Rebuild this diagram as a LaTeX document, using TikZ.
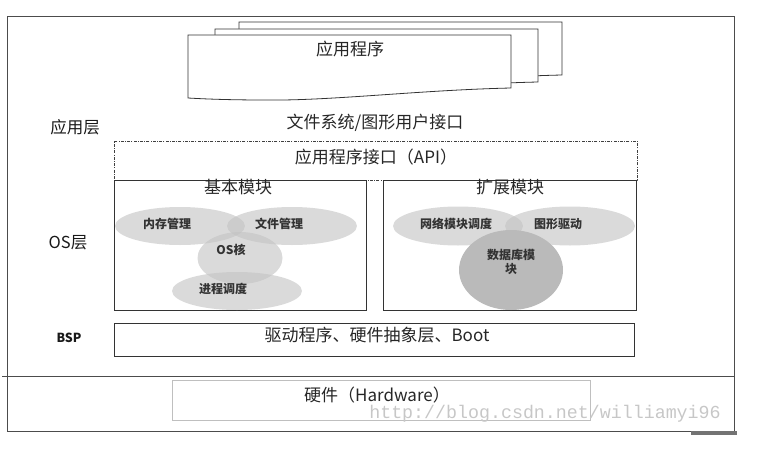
\documentclass[tikz,border=0pt]{standalone}
\usepackage{fontspec}
\setmainfont{Noto Sans CJK SC}
\newfontfamily\wmfont{Liberation Mono}
\usetikzlibrary{positioning,shapes.geometric}

\begin{document}
\begin{tikzpicture}[x=1pt,y=-1pt,
        layerbox/.style={draw=black!80, line width=0.8pt, inner sep=0pt},
        apibox/.style={draw=black!75, line width=0.7pt, inner sep=0pt,
            dash pattern=on 3pt off 1.2pt on 1pt off 1.2pt},
        blob/.style={ellipse, fill=black!24, fill opacity=0.6, inner sep=0pt},
        bigtxt/.style={font=\fontsize{17}{19}\selectfont, text=black!85},
        smalltxt/.style={font=\fontsize{12}{14}\selectfont\bfseries, text=black!80},
        sidetxt/.style={font=\fontsize{16.5}{18}\selectfont, text=black!90}
    ]

    \useasboundingbox (0,0) rectangle (757,452);

    % outer frame
    \draw[black!70, line width=0.9pt] (7,16) rectangle (734,431);
    \draw[black!70, line width=0.9pt] (2,376) -- (734,376);
    \fill[black!55] (691,431) rectangle (737,435);

    % stacked application documents
    \foreach \dx/\dy in {51/-13, 27/-6, 0/0} {
        \draw[black!80, line width=0.8pt, fill=white, shift={(\dx,\dy)}]
            (188,35) -- (511,35) -- (511,88)
            .. controls (420,90) and (330,101) .. (265,100)
            .. controls (230,100) and (205,99) .. (188,98) -- cycle;
    }
    \node[bigtxt] (app) at (350,49) {应用程序};

    % layer labels
    \node[sidetxt] (lblapp) at (75,127) {应用层};
    \node[sidetxt] (lblos) at (68,243) {OS层};
    \node[sidetxt, font=\fontsize{12.5}{14}\selectfont\bfseries] (lblbsp) at (69,338) {BSP};

    % application layer
    \node[bigtxt] (fsgui) at (375,123) {文件系统/图形用户接口};
    \node[apibox, minimum width=523, minimum height=39] (api) at (375.5,160.5) {};
    \node[bigtxt] (apitxt) at (376,157) {应用程序接口（API）};

    % OS layer
    \node[layerbox, minimum width=252, minimum height=130] (basic) at (240,245) {};
    \node[layerbox, minimum width=253, minimum height=130] (ext) at (509.5,245) {};
    \node[bigtxt] (basictxt) at (238,187) {基本模块};
    \node[bigtxt] (exttxt) at (510,187) {扩展模块};

    \node[blob, minimum width=130, minimum height=38] (mem) at (180,226) {};
    \node[blob, minimum width=130, minimum height=38] (file) at (292,226) {};
    \node[blob, minimum width=85, minimum height=52] (core) at (240,258) {};
    \node[blob, minimum width=130, minimum height=38] (proc) at (237,291) {};
    \node[blob, minimum width=130, minimum height=39] (net) at (458,226) {};
    \node[blob, minimum width=130, minimum height=39] (gfx) at (570,226) {};
    \node[ellipse, fill=black!27, inner sep=0pt, minimum width=104, minimum height=80] (db) at (511,270) {};

    \node[smalltxt] (memtxt) at (167,224) {内存管理};
    \node[smalltxt] (filetxt) at (279,224) {文件管理};
    \node[smalltxt] (coretxt) at (231,250) {OS核};
    \node[smalltxt] (proctxt) at (223,289) {进程调度};
    \node[smalltxt] (nettxt) at (456,224) {网络模块调度};
    \node[smalltxt] (gfxtxt) at (558,224) {图形驱动};
    \node[smalltxt, align=center] (dbtxt) at (511,262) {数据库模\\块};

    % BSP layer
    \node[layerbox, minimum width=520, minimum height=33] (bsp) at (374,339.5) {};
    \node[bigtxt] (bsptxt) at (377,335) {驱动程序、硬件抽象层、Boot};

    % hardware
    \node[draw=black!25, line width=0.8pt, minimum width=418, minimum height=40, inner sep=0pt] (hw) at (381,400) {};
    \node[bigtxt, inner sep=0pt, anchor=base] (hwtxt) at (377,401) {硬件（Hardware）};

    % watermark
    \node[font=\wmfont\fontsize{18.3}{20}\selectfont, text=black!22, inner sep=0pt, anchor=base] (wm) at (545,418.5) {http://blog.csdn.net/williamyi96};

\end{tikzpicture}
\end{document}
